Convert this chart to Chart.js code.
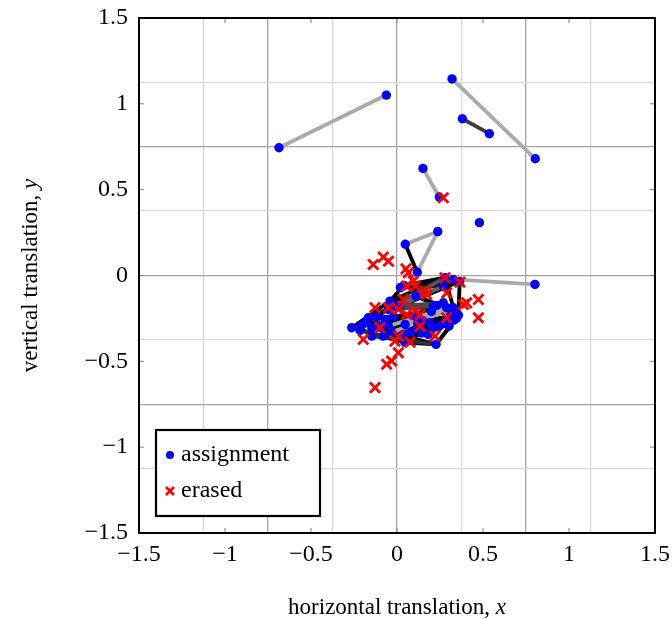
<!DOCTYPE html>
<html>
<head>
<meta charset="utf-8">
<script src="https://cdn.jsdelivr.net/npm/chart.js@4"></script>
<style>
  html, body { margin: 0; padding: 0; background: #fff; }
</style>
</head>
<body>
<canvas id="chart" width="672" height="619"></canvas>
<script>
// assignment points (blue dots)
const assignX = [-0.686, -0.062, 0.320, 0.804, 0.380, 0.537, 0.151, 0.246, 0.479, 0.237,
                 0.048, 0.118, 0.802, 0.327, 0.279, 0.041, 0.020, 0.110, 0.269, -0.041,
                 0.269, 0.231, 0.289, 0.327, 0.357, -0.167, -0.186, -0.263, -0.118, -0.070,
                 -0.050, -0.012, 0.047, 0.105, 0.153, 0.192, 0.250, 0.212, 0.153, 0.227,
                 0.047, -0.080, -0.147, -0.147, -0.050, 0.037, -0.031, 0.302, 0.182, -0.205,
                 -0.215, 0.345, 0.364, 0.316, 0.016, 0.142, 0.080, 0.300, -0.100, 0.200,
                 0.120, -0.020, 0.240, 0.280, 0.330, 0.205];
const assignY = [0.744, 1.051, 1.145, 0.680, 0.913, 0.826, 0.624, 0.457, 0.308, 0.256,
                 0.182, 0.019, -0.052, -0.023, -0.013, -0.058, -0.070, -0.120, -0.062, -0.149,
                 -0.159, -0.174, -0.188, -0.188, -0.231, -0.246, -0.275, -0.304, -0.242, -0.256,
                 -0.198, -0.178, -0.285, -0.237, -0.265, -0.275, -0.291, -0.178, -0.333, -0.401,
                 -0.391, -0.353, -0.353, -0.304, -0.295, -0.343, -0.333, -0.295, -0.343, -0.290,
                 -0.320, -0.250, -0.035, -0.200, -0.180, -0.335, -0.330, -0.250, -0.300, -0.210,
                 -0.280, -0.240, -0.300, -0.270, -0.260, -0.310];

// erased points (red crosses)
const erasedX = [-0.138, -0.080, -0.050, 0.052, 0.066, 0.095, 0.105, 0.172, 0.279, 0.366,
                 0.289, 0.473, 0.386, 0.405, 0.473, -0.128, -0.050, 0.008, 0.056, 0.134,
                 -0.099, -0.196, 0.008, -0.012, 0.076, 0.221, 0.289, 0.008, -0.031, -0.060,
                 -0.128, 0.056, 0.134, 0.269, 0.163, 0.037, 0.105];
const erasedY = [0.064, 0.107, 0.083, 0.039, 0.016, -0.033, -0.062, -0.110, -0.013, -0.039,
                 -0.101, -0.140, -0.169, -0.159, -0.246, -0.188, -0.188, -0.198, -0.227, -0.227,
                 -0.304, -0.372, -0.353, -0.382, -0.388, -0.353, -0.246, -0.450, -0.498, -0.517,
                 -0.653, -0.062, -0.295, 0.453, -0.091, -0.140, -0.207];

// links between assignment points, weight 0 (light) .. 1 (black)
const linkFrom   = [0, 2, 4, 6, 10, 9, 10, 13,
                    27, 27, 27, 19, 15, 16, 15, 52, 14, 24, 51, 39, 39, 40,
                    31, 54, 17, 33, 34, 32, 44, 45, 46, 29, 28, 43, 26, 30, 25,
                    16, 15, 19, 54, 17, 33, 31, 30, 29, 28, 43, 42, 41, 46, 45, 26, 25, 49, 40, 32, 19, 56, 58, 60, 61,
                    55, 38, 48, 56, 37, 21,
                    50, 41, 44, 32, 30, 31, 46, 30];
const linkTo     = [1, 3, 5, 7, 9, 11, 11, 12,
                    19, 50, 41, 15, 14, 18, 52, 24, 51, 39, 39, 40, 42, 27,
                    20, 18, 22, 53, 24, 47, 36, 51, 48, 38, 35, 55, 32, 21, 33,
                    13, 18, 14, 52, 24, 23, 53, 20, 47, 36, 39, 48, 39, 55, 38, 44, 31, 30, 55, 24, 17, 57, 59, 51, 22,
                    64, 63, 62, 65, 24, 51,
                    41, 23, 22, 53, 18, 14, 23, 37];
const linkWeight = [0.3, 0.3, 0.75, 0.3, 0.3, 0.3, 1, 0.3,
                    1, 0.35, 0.8, 1, 1, 1, 1, 1, 1, 1, 1, 1, 0.8, 1,
                    0.7, 0.7, 1, 1, 1, 1, 1, 1, 1, 1, 1, 1, 1, 1, 1,
                    1, 1, 0.9, 1, 1, 1, 1, 1, 1, 1, 1, 1, 1, 1, 1, 1, 1, 1, 1, 1, 1, 1, 1, 1, 1,
                    1, 1, 1, 1, 1, 1,
                    0.8, 0.3, 0.3, 0.35, 0.6, 0.65, 0.5, 0.7];

const tickValues = [-1.5, -1, -0.5, 0, 0.5, 1, 1.5];

const serif = '"Liberation Serif", "DejaVu Serif", serif';

function fmt(v) {
    const s = Math.abs(v).toString();
    return v < 0 ? '\u2212' + s : s;
}

function shade(w) {
    const g = Math.round(243 * (1 - w));
    return `rgb(${g}, ${g}, ${g})`;
}

const assignData = assignX.map((x, i) => ({ x: x, y: assignY[i] }));
const erasedData = erasedX.map((x, i) => ({ x: x, y: erasedY[i] }));

const datasets = [
    {
        label: 'erased',
        data: erasedData,
        pointStyle: 'crossRot',
        pointRadius: 7.2,
        pointBorderWidth: 2.8,
        borderColor: '#ff0000',
        backgroundColor: '#ff0000',
        showLine: false,
        order: 0
    },
    {
        label: 'assignment',
        data: assignData,
        pointStyle: 'circle',
        pointRadius: 4.7,
        pointBorderWidth: 0,
        borderColor: '#0000ff',
        backgroundColor: '#0000ff',
        showLine: false,
        order: 1
    }
];

linkFrom.forEach((a, i) => {
    const b = linkTo[i];
    datasets.push({
        label: 'link',
        data: [assignData[a], assignData[b]],
        showLine: true,
        borderColor: shade(linkWeight[i]),
        borderWidth: 3.8,
        pointRadius: 0,
        borderCapStyle: 'round',
        order: 2 + linkWeight[i]
    });
});

function isMajor(v) {
    const r = v / 0.75;
    return Math.abs(r - Math.round(r)) < 1e-6;
}

// frame, inward ticks, axis titles and legend
const decorPlugin = {
    id: 'decor',
    beforeDatasetsDraw(chart) {
        const { ctx, chartArea: a, scales } = chart;
        ctx.save();
        ctx.strokeStyle = '#808080';
        ctx.lineWidth = 1;
        const len = 5;
        tickValues.forEach(v => {
            const px = scales.x.getPixelForValue(v);
            const py = scales.y.getPixelForValue(v);
            ctx.beginPath();
            ctx.moveTo(px, a.bottom); ctx.lineTo(px, a.bottom - len);
            ctx.moveTo(px, a.top); ctx.lineTo(px, a.top + len);
            ctx.moveTo(a.left, py); ctx.lineTo(a.left + len, py);
            ctx.moveTo(a.right, py); ctx.lineTo(a.right - len, py);
            ctx.stroke();
        });
        ctx.restore();
    },
    afterDraw(chart) {
        const { ctx, chartArea: a } = chart;
        ctx.save();
        // frame
        ctx.strokeStyle = '#000';
        ctx.lineWidth = 2;
        ctx.strokeRect(a.left, a.top, a.right - a.left, a.bottom - a.top);

        // axis titles with italic variable
        const font = '23px ' + serif;
        const ifont = 'italic 23px ' + serif;
        ctx.fillStyle = '#000';
        ctx.textBaseline = 'alphabetic';
        ctx.textAlign = 'left';

        ctx.font = font;
        const t1 = 'horizontal translation, ';
        const w1 = ctx.measureText(t1).width;
        ctx.font = ifont;
        const w1x = ctx.measureText('x').width;
        let sx = (a.left + a.right) / 2 - (w1 + w1x) / 2;
        ctx.font = font;
        ctx.fillText(t1, sx, 614);
        ctx.font = ifont;
        ctx.fillText('x', sx + w1, 614);

        const t2 = 'vertical translation, ';
        ctx.font = font;
        const w2 = ctx.measureText(t2).width;
        ctx.font = ifont;
        const w2y = ctx.measureText('y').width;
        ctx.translate(37, (a.top + a.bottom) / 2);
        ctx.rotate(-Math.PI / 2);
        const sy = -(w2 + w2y) / 2;
        ctx.font = font;
        ctx.fillText(t2, sy, 0);
        ctx.font = ifont;
        ctx.fillText('y', sy + w2, 0);
        ctx.restore();

        // legend box in lower left corner
        ctx.save();
        const bx = a.left + 17, bw = 164, bh = 86;
        const by = a.bottom - 17 - bh;
        ctx.fillStyle = '#fff';
        ctx.fillRect(bx, by, bw, bh);
        ctx.strokeStyle = '#000';
        ctx.lineWidth = 2.2;
        ctx.strokeRect(bx, by, bw, bh);

        const entries = [chart.data.datasets[1], chart.data.datasets[0]];
        entries.forEach((ds, i) => {
            const cy = by + 25 + i * 36;
            const mx = bx + 14;
            if (ds.pointStyle === 'circle') {
                ctx.fillStyle = ds.backgroundColor;
                ctx.beginPath();
                ctx.arc(mx, cy, 4, 0, Math.PI * 2);
                ctx.fill();
            } else {
                ctx.strokeStyle = ds.borderColor;
                ctx.lineWidth = 2.6;
                ctx.beginPath();
                ctx.moveTo(mx - 4, cy - 4); ctx.lineTo(mx + 4, cy + 4);
                ctx.moveTo(mx - 4, cy + 4); ctx.lineTo(mx + 4, cy - 4);
                ctx.stroke();
            }
            ctx.fillStyle = '#000';
            ctx.font = '24px ' + serif;
            ctx.textBaseline = 'middle';
            ctx.textAlign = 'left';
            ctx.fillText(ds.label, bx + 25, cy);
        });
        ctx.restore();
    }
};

const tickFont = { family: serif, size: 24 };

const config = {
    type: 'scatter',
    data: { datasets: datasets },
    options: {
        responsive: false,
        animation: false,
        layout: { padding: { left: 16, right: 17, top: 18, bottom: 0 } },
        plugins: {
            legend: { display: false },
            tooltip: { enabled: false }
        },
        scales: {
            xg: {
                type: 'linear',
                position: 'bottom',
                min: -1.5,
                max: 1.5,
                ticks: { display: false, stepSize: 0.375 },
                grid: {
                    drawTicks: false,
                    lineWidth: 1.3,
                    color: c => isMajor(c.tick.value) ? '#a3a3a3' : '#d9d9d9'
                },
                border: { display: false },
                afterFit(s) { s.height = 0; s.paddingLeft = 0; s.paddingRight = 0; }
            },
            yg: {
                type: 'linear',
                position: 'left',
                min: -1.5,
                max: 1.5,
                ticks: { display: false, stepSize: 0.375 },
                grid: {
                    drawTicks: false,
                    lineWidth: 1.3,
                    color: c => isMajor(c.tick.value) ? '#a3a3a3' : '#d9d9d9'
                },
                border: { display: false },
                afterFit(s) { s.width = 0; s.paddingTop = 0; s.paddingBottom = 0; }
            },
            x: {
                type: 'linear',
                position: 'bottom',
                min: -1.5,
                max: 1.5,
                ticks: {
                    stepSize: 0.5,
                    callback: fmt,
                    font: tickFont,
                    color: '#000',
                    padding: 7,
                    maxRotation: 0,
                    autoSkip: false
                },
                grid: { display: false, drawTicks: false },
                border: { display: false },
                afterFit(s) { s.height = 86; s.paddingLeft = 0; s.paddingRight = 0; }
            },
            y: {
                type: 'linear',
                position: 'left',
                min: -1.5,
                max: 1.5,
                ticks: {
                    stepSize: 0.5,
                    callback: fmt,
                    font: tickFont,
                    color: '#000',
                    padding: 11,
                    autoSkip: false
                },
                grid: { display: false, drawTicks: false },
                border: { display: false },
                afterFit(s) { s.width = 123; s.paddingTop = 0; s.paddingBottom = 0; }
            }
        }
    },
    plugins: [decorPlugin]
};

new Chart(document.getElementById('chart').getContext('2d'), config);
</script>
</body>
</html>
